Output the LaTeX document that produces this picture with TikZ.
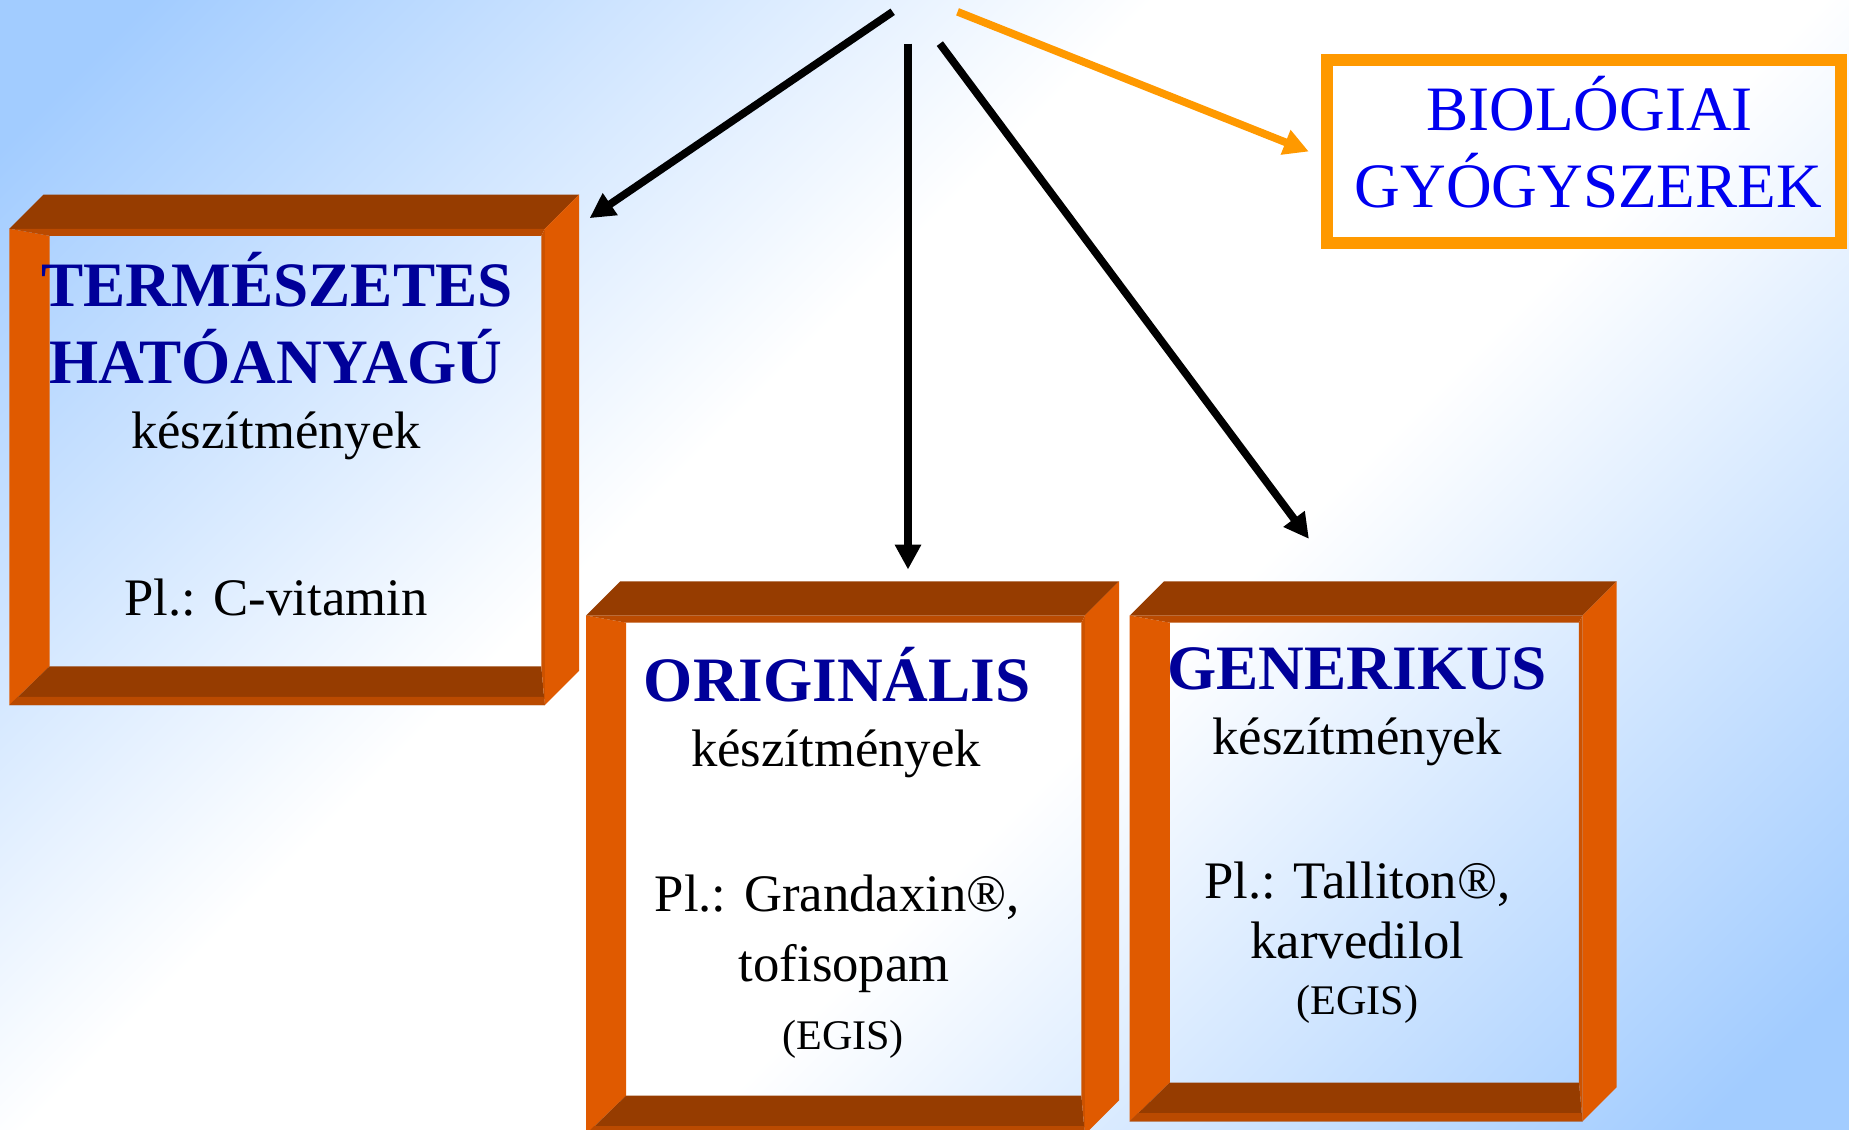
\documentclass[tikz,border=0pt]{standalone}
\usepackage{fontspec}
\setmainfont{Liberation Serif}
\usetikzlibrary{arrows.meta}
\definecolor{hatterkek}{HTML}{A2CCFF}
\definecolor{keretnarancs}{HTML}{E05A00}
\definecolor{keretbarna}{HTML}{963C00}
\definecolor{keretkozep}{HTML}{BA4A00}
\definecolor{keretjobb}{HTML}{CC5200}
\definecolor{cimkek}{HTML}{000099}
\definecolor{biokek}{HTML}{0000F0}
\definecolor{narancs}{HTML}{FF9900}
\pgfdeclareverticalshading{hatter}{100bp}{color(0bp)=(hatterkek); color(18bp)=(hatterkek);
  color(42bp)=(white); color(58bp)=(white); color(82bp)=(hatterkek); color(100bp)=(hatterkek)}

% 3D-s keret: elso lap (#1,#2)-(#3,#4), melyseg 29
\newcommand{\keret}[4]{%
  \fill[keretbarna] (#1,#2) -- (#1+29,#2-29) -- (#3+29,#2-29) -- (#3,#2) -- cycle;
  \fill[keretnarancs] (#3,#2) -- (#3+29,#2-29) -- (#3+29,#4-29) -- (#3,#4) -- cycle;
  \fill[keretnarancs] (#1,#2) -- (#1+34,#2+6) -- (#1+34,#4-33) -- (#1,#4) -- cycle;
  \fill[keretbarna] (#1,#4) -- (#1+34,#4-33) -- (#3-3,#4-33) -- (#3,#4) -- cycle;
  \fill[keretkozep] (#1,#4) -- (#1+7,#4-7) -- (#3-1,#4-7) -- (#3,#4) -- cycle;
  \fill[keretkozep] (#1,#2) -- (#3,#2) -- (#3-3,#2+6) -- (#1+34,#2+6) -- cycle;
  \fill[keretjobb] (#3,#2) -- (#3,#4) -- (#3-3,#4-33) -- (#3-3,#2+6) -- cycle;
}

\begin{document}
\begin{tikzpicture}[x=0.011792cm, y=-0.011792cm,
  cim/.style={font=\bfseries\fontsize{18}{22}\selectfont, text=cimkek, anchor=base, inner sep=0pt},
  szoveg/.style={font=\fontsize{15}{18}\selectfont, anchor=base, inner sep=0pt},
  kicsi/.style={font=\fontsize{12}{14}\selectfont, anchor=base, inner sep=0pt},
  bioszoveg/.style={font=\fontsize{18}{22}\selectfont, text=biokek, anchor=base, inner sep=0pt},
  nyil/.style={-{Triangle[length=0.25cm,width=0.25cm]}, line width=2.2pt}]
  % Hatter
  \clip (0,0) rectangle (1568,958);
  \shade[shading=hatter, shading angle=45] (0,0) rectangle (1568,958);

  % Termeszetes hatoanyagu keszitmenyek
  \keret{8}{194}{462}{598}
  \node[cim] (term1) at (235,260) {TERMÉSZETES};
  \node[cim] (term2) at (234,325) {HATÓANYAGÚ};
  \node[szoveg] (term3) at (234,380) {készítmények};
  \node[szoveg] (term4) at (234,522) {Pl.: C-vitamin};

  % Originalis keszitmenyek
  \keret{497}{522}{920}{962}
  \node[cim] (orig1) at (710,595) {ORIGINÁLIS};
  \node[szoveg] (orig2) at (709,650) {készítmények};
  \node[szoveg] (orig3) at (710,773) {Pl.: Grandaxin®,};
  \node[szoveg] (orig4) at (716,832) {tofisopam};
  \node[kicsi] (orig5) at (715,890) {(EGIS)};

  % Generikus keszitmenyek
  \keret{958}{522}{1342}{951}
  \node[cim] (gen1) at (1151,585) {GENERIKUS};
  \node[szoveg] (gen2) at (1151,640) {készítmények};
  \node[szoveg] (gen3) at (1151,762) {Pl.: Talliton®,};
  \node[szoveg] (gen4) at (1151,813) {karvedilol};
  \node[kicsi] (gen5) at (1151,860) {(EGIS)};

  % Biologiai gyogyszerek
  \node[draw=narancs, line width=0.118cm, minimum width=5.141cm, minimum height=1.828cm]
    (bio) at (1343,128.5) {};
  \node[bioszoveg] (bio1) at (1348,111) {BIOLÓGIAI};
  \node[bioszoveg] (bio2) at (1347,176) {GYÓGYSZEREK};

  % Nyilak
  \coordinate (ki1) at (757,10);
  \coordinate (ki2) at (770,37);
  \coordinate (ki3) at (797,37);
  \coordinate (ki4) at (812,10);
  \coordinate (be1) at (500,185);
  \coordinate (be2) at (770,483);
  \coordinate (be3) at (1110,457);
  \draw[nyil] (ki1) -- (be1);
  \draw[nyil] (ki2) -- (be2);
  \draw[nyil] (ki3) -- (be3);
  \draw[nyil, narancs] (ki4) -- ([xshift=-0.12cm]bio.west);
\end{tikzpicture}
\end{document}
